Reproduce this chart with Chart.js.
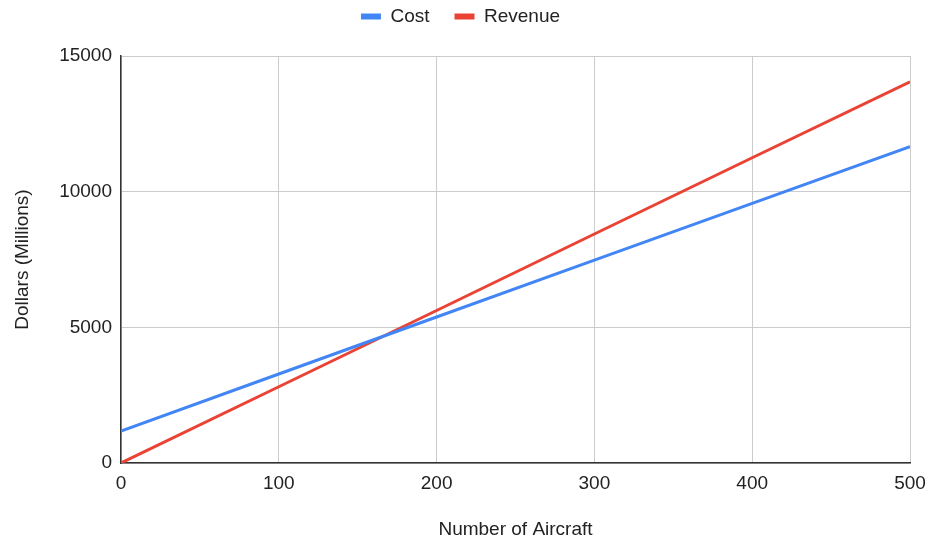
<!DOCTYPE html>
<html>
<head>
<meta charset="utf-8">
<script src="https://cdn.jsdelivr.net/npm/chart.js@4/dist/chart.umd.min.js"></script>
<style>
  html, body { margin: 0; padding: 0; background: #fff; }
  #wrap { width: 930px; height: 543px; }
</style>
</head>
<body>
<div id="wrap"><canvas id="grafica" width="930" height="543"></canvas></div>
<script>
// Datos
const aircraft = [0, 100, 200, 300, 400, 500];
const costValues = [1180, 3280, 5380, 7480, 9570, 11660];
const revenueValues = [0, 2810, 5620, 8440, 11250, 14050];
const yTicks = [0, 5000, 10000, 15000];

const font = { family: 'Arial, "Liberation Sans", sans-serif', size: 19 };
const textColor = '#222';

// Espacio extra debajo de la leyenda
const legendSpacer = {
  id: 'legendSpacer',
  beforeInit(chart) {
    const fitOrig = chart.legend.fit;
    chart.legend.fit = function () {
      fitOrig.call(this);
      this.height += 20;
    };
  }
};

const ctx = document.getElementById('grafica').getContext('2d');
new Chart(ctx, {
  type: 'line',
  data: {
    datasets: [
      {
        label: 'Cost',
        data: aircraft.map((x, i) => ({ x: x, y: costValues[i] })),
        borderColor: '#4285F4',
        backgroundColor: '#4285F4',
        borderWidth: 3,
        pointRadius: 0,
        fill: false
      },
      {
        label: 'Revenue',
        data: aircraft.map((x, i) => ({ x: x, y: revenueValues[i] })),
        borderColor: '#EA4335',
        backgroundColor: '#EA4335',
        borderWidth: 3,
        pointRadius: 0,
        fill: false
      }
    ]
  },
  plugins: [legendSpacer],
  options: {
    responsive: false,
    animation: false,
    layout: { padding: { left: 11, right: 20, top: -18, bottom: 2 } },
    plugins: {
      tooltip: { enabled: false },
      legend: {
        position: 'top',
        labels: {
          boxWidth: 20,
          boxHeight: 6,
          padding: 25,
          color: textColor,
          font: font,
          generateLabels: function (chart) {
            // sin borde en los cuadros de la leyenda
            const items = Chart.defaults.plugins.legend.labels.generateLabels(chart);
            items.forEach(it => { it.lineWidth = 0; });
            return items;
          }
        }
      }
    },
    scales: {
      x: {
        type: 'linear',
        min: 0,
        max: 500,
        ticks: { stepSize: 100, color: textColor, font: font, padding: 9 },
        grid: { color: '#cccccc', drawTicks: false },
        border: { color: '#333333', width: 1.5 },
        title: { display: true, text: 'Number of Aircraft', color: textColor, font: font, padding: 0 },
        afterFit: function (scale) {
          scale.height = 78;
          scale.paddingLeft = 0;
          scale.paddingRight = 0;
        }
      },
      y: {
        min: 0,
        max: 15000,
        afterBuildTicks: function (scale) { scale.ticks = yTicks.map(v => ({ value: v })); },
        ticks: {
          color: textColor, font: font, padding: 9,
          callback: function (value) { return String(value); }
        },
        grid: { color: '#cccccc', drawTicks: false },
        border: { color: '#333333', width: 1.5 },
        title: { display: true, text: 'Dollars (Millions)', color: textColor, font: font, padding: 0 },
        afterFit: function (scale) { scale.width = 110; }
      }
    }
  }
});
</script>
</body>
</html>
